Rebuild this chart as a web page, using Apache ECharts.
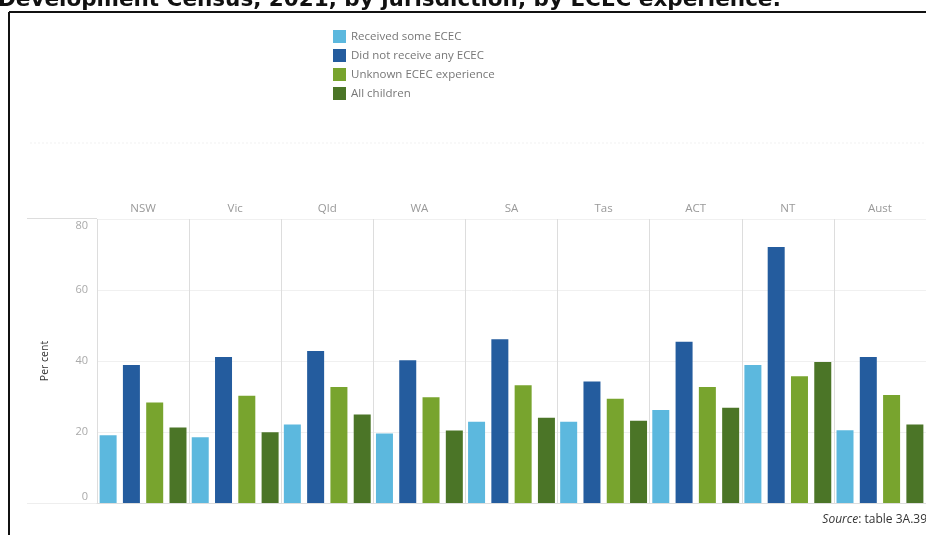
<!DOCTYPE html>
<html>
<head>
<meta charset="utf-8">
<script src="https://cdn.jsdelivr.net/npm/echarts@6/dist/echarts.min.js"></script>
<style>
html,body{margin:0;padding:0;background:#fff;}
#c{width:926px;height:535px;}
</style>
</head>
<body>
<div id="c"></div>
<script>
const categories = ['NSW','Vic','Qld','WA','SA','Tas','ACT','NT','Aust'];
const seriesNames = ['Received some ECEC','Did not receive any ECEC','Unknown ECEC experience','All children'];
const receivedSome = [19.1, 18.5, 22.1, 19.6, 22.9, 22.9, 26.2, 38.9, 20.5];
const didNotReceive = [38.9, 41.1, 42.8, 40.2, 46.1, 34.2, 45.4, 72.1, 41.1];
const unknownExp = [28.3, 30.2, 32.7, 29.8, 33.2, 29.4, 32.7, 35.7, 30.4];
const allChildren = [21.3, 19.9, 24.9, 20.4, 24.0, 23.2, 26.8, 39.7, 22.1];
const yTicks = [0, 20, 40, 60, 80];

const colors = ['#5cb8de', '#245c9e', '#78a42e', '#4b7527'];
const dataSets = [receivedSome, didNotReceive, unknownExp, allChildren];
const font = '"Open Sans", Lato, sans-serif';

const chart = echarts.init(document.getElementById('c'));
chart.setOption({
  animation: false,
  textStyle: { fontFamily: font },
  color: colors,
  legend: {
    orient: 'vertical',
    left: 333,
    top: 30,
    padding: 0,
    itemWidth: 13,
    itemHeight: 13,
    itemGap: 6,
    icon: 'rect',
    textStyle: { color: '#777', fontSize: 11.5, fontFamily: font },
    data: seriesNames
  },
  grid: { left: 97, right: 0, top: 219, bottom: 32 },
  xAxis: {
    type: 'category',
    position: 'top',
    data: categories,
    axisLine: { show: true, lineStyle: { color: '#ddd', width: 1 } },
    axisTick: { show: true, length: 21, interval: 0, lineStyle: { color: '#ddd' } },
    axisLabel: { color: '#999', fontSize: 11.5, margin: 4, interval: 0 },
    splitLine: { show: true, interval: 0, lineStyle: { color: '#ddd' } }
  },
  yAxis: {
    type: 'value',
    min: yTicks[0],
    max: yTicks[yTicks.length - 1],
    interval: 20,
    name: 'Per cent',
    nameLocation: 'middle',
    nameGap: 46,
    nameTextStyle: { color: '#333', fontSize: 10.5 },
    axisLine: { show: false },
    axisTick: { show: false },
    axisLabel: {
      color: '#aaa', fontSize: 11, margin: 9,
      formatter: function (v) {
        if (v === yTicks[0]) return '{b|' + v + '}';
        if (v === yTicks[yTicks.length - 1]) return '{t|' + v + '}';
        return '{m|' + v + '}';
      },
      rich: {
        b: { color: '#aaa', fontSize: 11, padding: [0, 0, 12, 0] },
        t: { color: '#aaa', fontSize: 11, padding: [14, 0, 0, 0] },
        m: { color: '#aaa', fontSize: 11 }
      }
    },
    splitLine: { lineStyle: { color: '#f0f0f0' } }
  },
  series: seriesNames.map((n, i) => ({
    name: n,
    type: 'bar',
    data: dataSets[i],
    barWidth: 17,
    barGap: '37%',
    itemStyle: { color: colors[i] }
  })),
  graphic: [
    { type: 'text', left: -2, top: -11, style: { text: 'Development Census, 2021, by jurisdiction, by ECEC experience:', font: 'bold 21.5px "DejaVu Sans", sans-serif', fill: '#111' } },
    { type: 'line', shape: { x1: 9, y1: 12, x2: 926, y2: 12 }, style: { stroke: '#111', lineWidth: 2 } },
    { type: 'line', shape: { x1: 9, y1: 12, x2: 9, y2: 535 }, style: { stroke: '#111', lineWidth: 2 } },
    { type: 'line', shape: { x1: 30, y1: 143, x2: 926, y2: 143 }, style: { stroke: '#f1f1f1', lineWidth: 1, lineDash: [2, 2] } },
    { type: 'line', shape: { x1: 27, y1: 218.5, x2: 97, y2: 218.5 }, style: { stroke: '#ddd', lineWidth: 1 } },
    { type: 'line', shape: { x1: 27, y1: 503.5, x2: 97, y2: 503.5 }, style: { stroke: '#eee', lineWidth: 1 } },
    { type: 'text', right: -1, top: 514, style: { rich: { i: { fontStyle: 'italic', fill: '#333', fontSize: 12, fontFamily: font }, n: { fill: '#333', fontSize: 12, fontFamily: font } }, text: '{i|Source}{n|: table 3A.39}' } }
  ]
});
</script>
</body>
</html>
